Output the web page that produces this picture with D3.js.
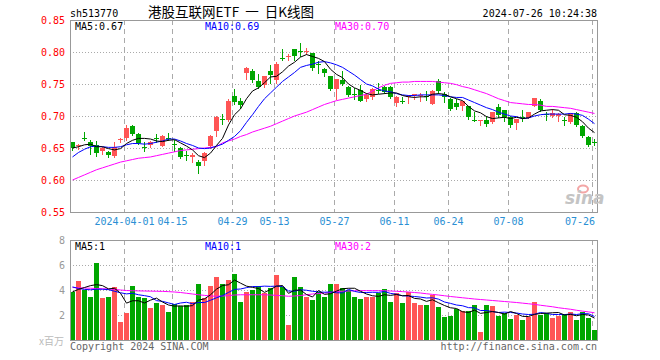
<!DOCTYPE html>
<html><head><meta charset="utf-8">
<script src="https://cdn.jsdelivr.net/npm/d3@7/dist/d3.min.js"></script>
<style>body{margin:0;background:#fff}svg{display:block}</style>
</head><body><svg id="c" width="660" height="360"></svg>
<script>
const dates = ["2024-03-19","2024-03-20","2024-03-21","2024-03-22","2024-03-25","2024-03-26","2024-03-27","2024-03-28","2024-03-29",
"2024-04-01","2024-04-02","2024-04-03","2024-04-08","2024-04-09","2024-04-10","2024-04-11","2024-04-12",
"2024-04-15","2024-04-16","2024-04-17","2024-04-18","2024-04-19","2024-04-22","2024-04-23","2024-04-24","2024-04-25","2024-04-26",
"2024-04-29","2024-04-30","2024-05-06","2024-05-07","2024-05-08","2024-05-09","2024-05-10",
"2024-05-13","2024-05-14","2024-05-15","2024-05-16","2024-05-17","2024-05-20","2024-05-21","2024-05-22","2024-05-23","2024-05-24",
"2024-05-27","2024-05-28","2024-05-29","2024-05-30","2024-05-31","2024-06-03","2024-06-04","2024-06-05","2024-06-06","2024-06-07",
"2024-06-11","2024-06-12","2024-06-13","2024-06-14","2024-06-17","2024-06-18","2024-06-19","2024-06-20","2024-06-21",
"2024-06-24","2024-06-25","2024-06-26","2024-06-27","2024-06-28","2024-07-01","2024-07-02","2024-07-03","2024-07-04","2024-07-05",
"2024-07-08","2024-07-09","2024-07-10","2024-07-11","2024-07-12","2024-07-15","2024-07-16","2024-07-17","2024-07-18","2024-07-19",
"2024-07-22","2024-07-23","2024-07-24","2024-07-25","2024-07-26"];

const openP = [.659,.652,.666,.659,.654,.645,.643,.637,.662,.667,
.685,.672,.652,.654,.666,.654,.665,.657,.650,.639,
.636,.628,.629,.653,.677,.695,.694,.732,.724,.767,
.771,.755,.749,.771,.757,.790,.793,.804,.801,.801,
.798,.782,.773,.762,.742,.757,.746,.735,.741,.727,
.730,.740,.746,.746,.719,.724,.730,.733,.732,.732,
.719,.754,.735,.727,.721,.715,.715,.694,.693,.694,
.692,.714,.709,.698,.689,.699,.698,.716,.724,.703,
.700,.700,.693,.690,.705,.685,.667,.660];
const highP = [.660,.656,.675,.662,.661,.652,.645,.659,.665,.686,
.686,.673,.660,.661,.672,.670,.673,.663,.651,.646,
.642,.631,.643,.671,.700,.703,.726,.742,.728,.776,
.774,.766,.763,.780,.784,.804,.797,.805,.814,.806,
.799,.786,.775,.763,.758,.770,.747,.744,.748,.736,
.744,.752,.747,.747,.731,.729,.733,.735,.736,.739,
.741,.758,.737,.728,.727,.723,.715,.707,.694,.700,
.707,.718,.709,.700,.696,.710,.707,.728,.727,.707,
.711,.704,.699,.705,.707,.686,.668,.664];
const lowP = [.647,.648,.662,.640,.638,.641,.636,.636,.660,.663,
.671,.657,.646,.652,.660,.653,.662,.646,.634,.631,
.628,.611,.623,.650,.669,.687,.692,.718,.712,.758,
.753,.744,.746,.752,.752,.788,.788,.787,.794,.797,
.772,.767,.762,.741,.727,.749,.731,.726,.723,.723,
.727,.736,.736,.728,.715,.721,.721,.726,.723,.725,
.718,.736,.722,.709,.711,.710,.696,.692,.686,.684,
.689,.699,.692,.683,.680,.692,.697,.715,.708,.694,
.698,.692,.686,.689,.685,.667,.653,.654];
const closeP = [.649,.654,.665,.652,.641,.650,.639,.651,.664,.682,
.672,.658,.651,.659,.665,.669,.664,.656,.636,.638,
.639,.621,.642,.669,.699,.694,.724,.722,.718,.775,
.757,.746,.763,.764,.782,.789,.794,.793,.800,.802,
.775,.781,.767,.742,.758,.750,.734,.734,.724,.733,
.742,.739,.738,.730,.729,.723,.731,.734,.733,.731,
.739,.739,.730,.711,.715,.723,.698,.693,.694,.688,
.707,.702,.698,.686,.696,.698,.707,.728,.710,.702,
.704,.703,.692,.704,.686,.669,.654,.659];

const ma5P = [.650,.652,.655,.656,.652,.652,.649,.647,.649,.657,
.662,.665,.665,.664,.661,.660,.662,.663,.658,.653,
.647,.638,.635,.642,.654,.665,.686,.702,.711,.727,
.739,.744,.752,.761,.762,.769,.778,.784,.792,.796,
.793,.790,.785,.773,.765,.760,.750,.744,.740,.735,
.733,.734,.735,.736,.736,.732,.730,.729,.730,.730,
.734,.735,.734,.730,.727,.724,.715,.708,.705,.699,
.696,.697,.698,.696,.698,.696,.697,.703,.708,.709,
.710,.709,.702,.701,.698,.691,.681,.674];
const ma10P = [.636,.643,.648,.652,.653,.652,.651,.651,.652,.655,
.657,.657,.656,.657,.659,.661,.664,.664,.661,.657,
.654,.650,.649,.650,.653,.656,.662,.668,.677,.690,
.702,.715,.727,.736,.745,.754,.761,.768,.776,.779,
.781,.784,.785,.783,.780,.776,.770,.764,.757,.750,
.747,.742,.739,.738,.735,.733,.732,.732,.733,.733,
.733,.733,.732,.730,.729,.729,.725,.721,.717,.713,
.710,.706,.703,.700,.699,.696,.697,.700,.702,.703,
.703,.703,.703,.704,.703,.701,.695,.688];
const ma30P = [.600,.604,.608,.612,.616,.619,.622,.625,.628,.630,
.632,.634,.635,.636,.638,.640,.642,.644,.646,.647,
.648,.649,.650,.651,.652,.658,.661,.664,.668,.671,
.675,.678,.681,.684,.688,.692,.696,.700,.703,.706,
.710,.714,.718,.721,.724,.726,.728,.730,.732,.734,
.739,.744,.748,.751,.752,.753,.753,.754,.754,.754,
.754,.753,.752,.751,.749,.746,.744,.741,.738,.735,
.731,.727,.724,.721,.720,.719,.718,.718,.717,.715,
.715,.714,.713,.712,.710,.708,.706,.704];

const volume = [3.81,4.74,4.02,3.46,6.13,3.38,3.46,4.26,1.46,2.18,
4.34,3.46,3.38,2.58,2.98,2.82,2.26,2.90,2.69,2.82,
3.06,4.50,3.38,4.34,5.06,4.50,4.82,5.30,3.06,3.86,
4.02,4.34,3.78,4.18,5.22,4.26,1.22,5.02,4.26,3.46,
3.22,3.86,3.46,4.50,4.52,4.18,4.02,3.46,3.30,3.46,
3.46,3.78,4.10,3.06,3.78,2.98,3.86,2.98,2.82,2.82,
3.62,2.66,1.86,1.94,2.50,2.34,2.34,2.82,0.66,2.82,
2.74,1.94,2.18,1.70,2.02,1.62,1.86,3.06,2.02,2.18,
1.78,1.94,2.10,2.26,1.62,2.26,1.78,0.82];
const ma5V = [3.85,4.05,4.20,4.35,4.43,4.35,4.09,4.14,3.74,2.95,
3.14,3.14,2.96,3.19,3.35,3.04,2.80,2.71,2.73,2.70,
2.75,3.19,3.29,3.62,4.07,4.36,4.42,4.80,4.55,4.31,
4.21,4.12,3.81,4.04,4.31,4.36,3.73,3.98,4.00,3.64,
3.44,3.96,3.65,3.70,3.91,4.10,4.14,4.14,3.90,3.68,
3.54,3.49,3.62,3.57,3.64,3.54,3.56,3.33,3.28,3.09,
3.22,2.98,2.76,2.58,2.52,2.26,2.20,2.39,2.13,2.20,
2.28,2.20,2.07,2.28,2.12,1.89,1.88,2.05,2.12,2.15,
2.18,2.20,2.00,2.05,1.94,2.04,2.00,1.75];
const ma10V = [4.25,4.12,4.05,4.02,4.06,4.06,4.03,3.90,3.78,3.69,
3.74,3.62,3.55,3.46,3.15,3.09,2.97,2.84,2.96,3.02,
2.90,3.00,3.00,3.18,3.38,3.55,3.81,4.05,4.08,4.19,
4.28,4.27,4.31,4.29,4.31,4.28,3.92,3.90,4.02,3.98,
3.90,3.85,3.82,3.85,3.78,3.77,4.05,3.89,3.80,3.80,
3.82,3.81,3.88,3.73,3.66,3.54,3.52,3.48,3.43,3.36,
3.38,3.27,3.04,2.93,2.80,2.74,2.59,2.57,2.36,2.36,
2.27,2.20,2.23,2.20,2.16,2.08,2.04,2.06,2.20,2.13,
2.04,2.04,2.03,2.08,2.04,2.11,2.10,1.88];
const ma30V = [4.20,4.18,4.16,4.14,4.12,4.10,4.08,4.05,4.00,3.96,
3.94,3.93,3.92,3.91,3.90,3.89,3.87,3.84,3.80,3.74,
3.68,3.62,3.57,3.52,3.50,3.52,3.55,3.60,3.62,3.62,
3.62,3.62,3.62,3.60,3.57,3.54,3.50,3.52,3.56,3.62,
3.68,3.72,3.76,3.80,3.88,3.90,3.92,3.94,3.95,3.95,
3.95,3.95,3.94,3.92,3.90,3.87,3.84,3.80,3.76,3.70,
3.65,3.60,3.54,3.48,3.43,3.38,3.33,3.28,3.24,3.20,
3.16,3.12,3.08,3.04,3.00,2.95,2.90,2.85,2.78,2.72,
2.66,2.58,2.52,2.46,2.38,2.31,2.25,2.18];

const priceTicks = [0.55,0.60,0.65,0.70,0.75,0.80,0.85];
const volTicks = [2,4,6,8];
const tickDates = ["2024-04-01","2024-04-15","2024-04-29","2024-05-13","2024-05-27","2024-06-11","2024-06-24","2024-07-08","2024-07-26"];
const tickLabels = ["2024-04-01","04-15","04-29","05-13","05-27","06-11","06-24","07-08","07-26"];

const title = "港股互联网ETF  一  日K线图";
const code = "sh513770";
const stamp = "2024-07-26 10:24:38";
const maLabelsP = [["MA5:0.67","#000"],["MA10:0.69","#0000ff"],["MA30:0.70","#ff00ff"]];
const maLabelsV = [["MA5:1","#000"],["MA10:1","#0000ff"],["MA30:2","#ff00ff"]];

const svg = d3.select('#c');
const L=70,R=597,PT=20,PB=212,VT=240,VB=340;
const n = dates.length;
const x = d3.scaleBand().domain(dates).range([L, L+6*n-1]).paddingInner(1/6).paddingOuter(0);
const yP = d3.scaleLinear().domain([0.55,0.85]).range([PB,PT]);
const yV = d3.scaleLinear().domain([0,8]).range([VB,VT]);
const bx = d => Math.round(x(d));
const mono = "'DejaVu Sans Mono', monospace";
const RED="#ff5555", GREEN="#00a600";
const isUp = i => closeP[i] >= openP[i];

const defs = svg.append('defs');
defs.append('clipPath').attr('id','cp').append('rect').attr('x',L).attr('y',PT).attr('width',R-L).attr('height',PB-PT);
defs.append('clipPath').attr('id','cv').append('rect').attr('x',L).attr('y',VT).attr('width',R-L).attr('height',VB-VT);

// grid
const grid = svg.append('g').attr('shape-rendering','crispEdges');
grid.selectAll('.hp').data(priceTicks.filter(v=>v>0.56&&v<0.84)).join('line')
  .attr('x1',L).attr('x2',R).attr('y1',d=>Math.round(yP(d))+0.5).attr('y2',d=>Math.round(yP(d))+0.5)
  .attr('stroke','#aaa').attr('stroke-dasharray','1,2');
grid.selectAll('.hv').data(volTicks.filter(v=>v<8)).join('line')
  .attr('x1',L).attr('x2',R).attr('y1',d=>Math.round(yV(d))+0.5).attr('y2',d=>Math.round(yV(d))+0.5)
  .attr('stroke','#aaa').attr('stroke-dasharray','1,2');
[[PT,PB],[VT,VB]].forEach(([a,b])=>{
  grid.selectAll(null).data(tickDates).join('line')
    .attr('x1',d=>bx(d)+0.5).attr('x2',d=>bx(d)+0.5).attr('y1',a).attr('y2',b)
    .attr('stroke','#aaa').attr('stroke-dasharray','5,4');
});

// candles
const idx = d3.range(n);
const cg = svg.append('g').attr('clip-path','url(#cp)').attr('shape-rendering','crispEdges');
cg.selectAll('line.w').data(idx).join('line').attr('class','w')
  .attr('x1',i=>bx(dates[i])+2.5).attr('x2',i=>bx(dates[i])+2.5)
  .attr('y1',i=>Math.round(yP(highP[i]))).attr('y2',i=>Math.round(yP(lowP[i]))+1)
  .attr('stroke',i=>isUp(i)?RED:GREEN);
cg.selectAll('rect.b').data(idx).join('rect').attr('class','b')
  .attr('x',i=>bx(dates[i])).attr('width',x.bandwidth())
  .attr('y',i=>Math.round(yP(Math.max(openP[i],closeP[i]))))
  .attr('height',i=>Math.max(1,Math.round(Math.abs(yP(openP[i])-yP(closeP[i])))))
  .attr('fill',i=>isUp(i)?RED:GREEN);

// volume bars
const vg = svg.append('g').attr('clip-path','url(#cv)').attr('shape-rendering','crispEdges');
vg.selectAll('rect').data(idx).join('rect')
  .attr('x',i=>bx(dates[i])).attr('width',x.bandwidth())
  .attr('y',i=>Math.round(yV(volume[i]))).attr('height',i=>VB-Math.round(yV(volume[i])))
  .attr('fill',i=>isUp(i)?RED:GREEN);

// MA lines
const cx = i => bx(dates[i])+2.5;
function maLine(g, arr, y, color){
  g.append('path').datum(idx).attr('fill','none').attr('stroke',color).attr('stroke-width',1)
   .attr('d', d3.line().x(cx).y(i=>y(arr[i])));
}
const mg = svg.append('g').attr('clip-path','url(#cp)');
maLine(mg, ma30P, yP, '#ff00ff'); maLine(mg, ma10P, yP, '#0000ff'); maLine(mg, ma5P, yP, '#000');
const mv = svg.append('g').attr('clip-path','url(#cv)');
maLine(mv, ma30V, yV, '#ff00ff'); maLine(mv, ma10V, yV, '#0000ff'); maLine(mv, ma5V, yV, '#000');

// frames
[[PT,PB],[VT,VB]].forEach(([a,b])=>{
  svg.append('rect').attr('x',L+0.5).attr('y',a+0.5).attr('width',R-L).attr('height',b-a)
    .attr('fill','none').attr('stroke','#999').attr('shape-rendering','crispEdges');
});

// axes
const ax = svg.append('g').attr('transform',`translate(${L},0)`)
  .call(d3.axisLeft(yP).tickValues(priceTicks).tickFormat(d3.format('.2f')).tickSize(0).tickPadding(5));
ax.select('.domain').remove();
ax.selectAll('text').attr('fill','#f00').style('font-family',mono).style('font-size','10px');
const av = svg.append('g').attr('transform',`translate(${L},0)`)
  .call(d3.axisLeft(yV).tickValues(volTicks).tickFormat(d3.format('d')).tickSize(0).tickPadding(5));
av.select('.domain').remove();
av.selectAll('text').attr('fill','#999').style('font-family',mono).style('font-size','10px');

// date labels
const dl = svg.append('g').selectAll('text').data(tickDates).join('text')
  .attr('x',d=>bx(d)+0.5).attr('y',225).attr('text-anchor','middle')
  .attr('fill','#2a8fd4').style('font-family',mono).style('font-size','10px')
  .text((d,i)=>tickLabels[i]);
dl.each(function(){
  const w=this.getComputedTextLength(); const xx=+this.getAttribute('x');
  if(xx+w/2>R){this.setAttribute('text-anchor','end');this.setAttribute('x',R-2);}
});

// texts
const T = (s,xx,yy,opts={}) => svg.append('text').attr('x',xx).attr('y',yy).text(s)
  .attr('fill',opts.fill||'#000').attr('text-anchor',opts.anchor||'start')
  .style('font-family',opts.font||mono).style('font-size',(opts.size||10)+'px')
  .style('font-style',opts.style||'normal').style('font-weight',opts.weight||'normal')
  .style('white-space','pre');
T(code, L, 16.5);
T(title, 231, 17, {anchor:'middle', font:"'Noto Sans CJK SC', sans-serif", size:13.5});
T(stamp, R, 16.5, {anchor:'end'});
const maX = [75, 205, 335];
maLabelsP.forEach((m,i)=>T(m[0], maX[i], 30, {fill:m[1]}));
maLabelsV.forEach((m,i)=>T(m[0], maX[i], 250, {fill:m[1]}));
T('x百万', 64, 345, {anchor:'end', fill:'#bbb', font:"'Noto Sans CJK SC', sans-serif", size:10});
T('Copyright 2024 SINA.COM', L, 349.5, {fill:'#666'});
T('http://finance.sina.com.cn', R, 349.5, {anchor:'end', fill:'#666'});
// sina watermark
svg.append('ellipse').attr('cx',583).attr('cy',189).attr('rx',5).attr('ry',3.5)
  .attr('fill','none').attr('stroke','#f3a6a6').attr('stroke-width',2);
T('sina', 565, 204, {fill:'#c4c4c4', font:"'DejaVu Sans', sans-serif", size:17, style:'italic', weight:'bold'});
</script></body></html>
